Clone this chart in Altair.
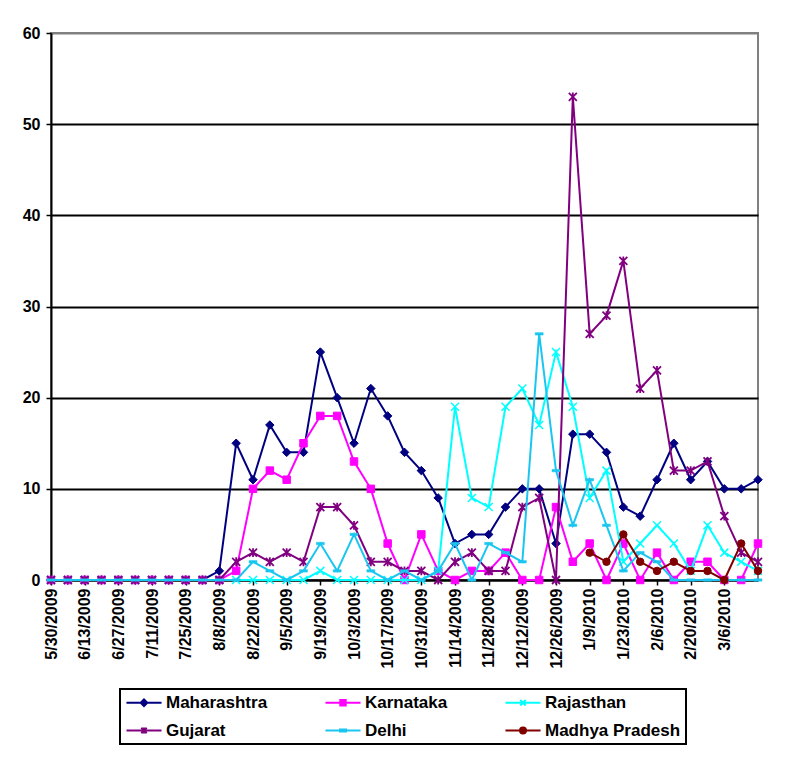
import altair as alt
import pandas as pd

weeks = [
    "5/30/2009", "6/6/2009", "6/13/2009", "6/20/2009", "6/27/2009", "7/4/2009",
    "7/11/2009", "7/18/2009", "7/25/2009", "8/1/2009", "8/8/2009", "8/15/2009",
    "8/22/2009", "8/29/2009", "9/5/2009", "9/12/2009", "9/19/2009", "9/26/2009",
    "10/3/2009", "10/10/2009", "10/17/2009", "10/24/2009", "10/31/2009", "11/7/2009",
    "11/14/2009", "11/21/2009", "11/28/2009", "12/5/2009", "12/12/2009", "12/19/2009",
    "12/26/2009", "1/2/2010", "1/9/2010", "1/16/2010", "1/23/2010", "1/30/2010",
    "2/6/2010", "2/13/2010", "2/20/2010", "2/27/2010", "3/6/2010", "3/13/2010",
    "3/20/2010",
]
tick_labels = [
    "5/30/2009", "6/13/2009", "6/27/2009", "7/11/2009", "7/25/2009", "8/8/2009",
    "8/22/2009", "9/5/2009", "9/19/2009", "10/3/2009", "10/17/2009", "10/31/2009",
    "11/14/2009", "11/28/2009", "12/12/2009", "12/26/2009", "1/9/2010", "1/23/2010",
    "2/6/2010", "2/20/2010", "3/6/2010",
]
y_ticks = [0, 10, 20, 30, 40, 50, 60]

maharashtra = [0, 0, 0, 0, 0, 0, 0, 0, 0, 0, 1, 15, 11, 17, 14, 14, 25, 20, 15, 21, 18,
               14, 12, 9, 4, 5, 5, 8, 10, 10, 4, 16, 16, 14, 8, 7, 11, 15, 11, 13, 10, 10, 11]
karnataka = [0, 0, 0, 0, 0, 0, 0, 0, 0, 0, 0, 1, 10, 12, 11, 15, 18, 18, 13, 10, 4,
             0, 5, 1, 0, 1, 1, 3, 0, 0, 8, 2, 4, 0, 4, 0, 3, 0, 2, 2, 0, 0, 4]
rajasthan = [0, 0, 0, 0, 0, 0, 0, 0, 0, 0, 0, 0, 0, 0, 0, 0, 1, 0, 0, 0, 0,
             0, 0, 1, 19, 9, 8, 19, 21, 17, 25, 19, 9, 12, 2, 4, 6, 4, 1, 6, 3, 2, 1]
gujarat = [0, 0, 0, 0, 0, 0, 0, 0, 0, 0, 0, 2, 3, 2, 3, 2, 8, 8, 6, 2, 2,
           1, 1, 0, 2, 3, 1, 1, 8, 9, 0, 53, 27, 29, 35, 21, 23, 12, 12, 13, 7, 3, 2]
delhi = [0, 0, 0, 0, 0, 0, 0, 0, 0, 0, 0, 0, 2, 1, 0, 1, 4, 1, 5, 1, 0,
         1, 0, 1, 4, 0, 4, 3, 2, 27, 12, 6, 11, 6, 1, 3, 2, 0, 0, 0, 0, 0, 0]
madhya_pradesh = [None] * 32 + [3, 2, 5, 2, 1, 2, 1, 1, 0, 4, 1]

series_names = ["Maharashtra", "Karnataka", "Rajasthan", "Gujarat", "Delhi", "Madhya Pradesh"]
series_values = [maharashtra, karnataka, rajasthan, gujarat, delhi, madhya_pradesh]
series_colors = ["#000080", "#FF00FF", "#00FFFF", "#800080", "#1AC6F0", "#800000"]

rows = []
for name, vals in zip(series_names, series_values):
    for w, v in zip(weeks, vals):
        if v is not None:
            rows.append({"week": w, "series": name, "cases": v})
df = pd.DataFrame(rows)

FONT = "Liberation Sans"

x_enc = alt.X(
    "week:N",
    scale=alt.Scale(type="point", domain=weeks, padding=0),
    axis=alt.Axis(
        values=tick_labels, labelAngle=-90, title=None, grid=False,
        tickSize=5, tickColor="black", tickWidth=1.5,
        domainColor="black", domainWidth=2,
        labelFont=FONT, labelFontSize=16, labelFontWeight="bold", labelColor="black",
        labelPadding=3,
    ),
)
y_enc = alt.Y(
    "cases:Q",
    scale=alt.Scale(domain=[0, 60], nice=False, zero=True),
    axis=alt.Axis(
        values=y_ticks, title=None, grid=True,
        gridColor={"condition": {"test": "datum.value === 60", "value": "#808080"}, "value": "black"},
        gridWidth=2,
        tickSize=5, tickColor="black", tickWidth=1.5,
        domainColor="black", domainWidth=2,
        labelFont=FONT, labelFontSize=16, labelFontWeight="bold", labelColor="black",
        labelPadding=6,
    ),
)

X_PATH = "M-1,-1L1,1M-1,1L1,-1"
STAR_PATH = "M-1,-1L1,1M-1,1L1,-1M0,-1.1L0,1.1"
DASH_PATH = "M-1,-0.3L1,-0.3L1,0.3L-1,0.3Z"

marker_styles = {
    "Maharashtra": dict(shape="diamond", size=72, filled=True, strokeWidth=1),
    "Karnataka": dict(shape="square", size=56, filled=True, strokeWidth=1),
    "Rajasthan": dict(shape=X_PATH, size=64, filled=False, strokeWidth=1.5),
    "Gujarat": dict(shape=STAR_PATH, size=64, filled=False, strokeWidth=1.8),
    "Delhi": dict(shape=DASH_PATH, size=64, filled=True, strokeWidth=0.5),
    "Madhya Pradesh": dict(shape="circle", size=56, filled=True, strokeWidth=1),
}

layers = []
for name, color in zip(series_names, series_colors):
    base = alt.Chart(df).transform_filter(alt.datum.series == name)
    line = base.mark_line(color=color, strokeWidth=2).encode(x=x_enc, y=y_enc)
    st = marker_styles[name]
    if st["filled"]:
        pts = base.mark_point(opacity=1, fill=color, stroke=color, **st)
    else:
        pts = base.mark_point(opacity=1, stroke=color, **st)
    layers += [line, pts.encode(x=x_enc, y=y_enc)]

# legend symbols: line segment with small marker
LINE = "M-1.17,0L4.67,0"
legend_paths = [
    LINE + "M1.75,-0.55L2.3,0L1.75,0.55L1.2,0Z",
    LINE + "M1.3,-0.45L2.2,-0.45L2.2,0.45L1.3,0.45Z",
    LINE + "M1.3,-0.45L2.2,0.45M1.3,0.45L2.2,-0.45",
    LINE + "M1.3,-0.45L2.2,0.45M1.3,0.45L2.2,-0.45M1.75,-0.5L1.75,0.5",
    LINE + "M1.25,-0.17L2.25,-0.17L2.25,0.17L1.25,0.17Z",
    LINE + "M1.25,0A0.5,0.5 0 1,0 2.25,0A0.5,0.5 0 1,0 1.25,0Z",
]

leg = alt.Legend(
    title=None, orient="none", legendX=69, legendY=656, columns=3,
    direction="horizontal",
    columnPadding=53, rowPadding=10, padding=5,
    strokeColor="black",
    symbolSize=144, symbolStrokeWidth=2, labelOffset=24,
    labelFont=FONT, labelFontSize=17, labelFontWeight="bold", labelColor="black",
)
legend_layer = alt.Chart(df).transform_filter("false").mark_point(
    filled=True, opacity=1
).encode(
    color=alt.Color("series:N", scale=alt.Scale(domain=series_names, range=series_colors), legend=leg),
    stroke=alt.Stroke("series:N", scale=alt.Scale(domain=series_names, range=series_colors), legend=leg),
    shape=alt.Shape("series:N", scale=alt.Scale(domain=series_names, range=legend_paths), legend=leg),
)
layers.append(legend_layer)

chart = alt.layer(*layers).properties(
    width=707, height=547,
    padding={"left": 43, "top": 25, "right": 25, "bottom": 189},
    autosize=alt.AutoSizeParams(type="none"),
    background="white",
).configure_view(
    stroke="#808080", strokeWidth=2
).configure_legend(
    strokeWidth=2
)

chart.save("out.html", embed_options={"renderer": "svg", "actions": False})
